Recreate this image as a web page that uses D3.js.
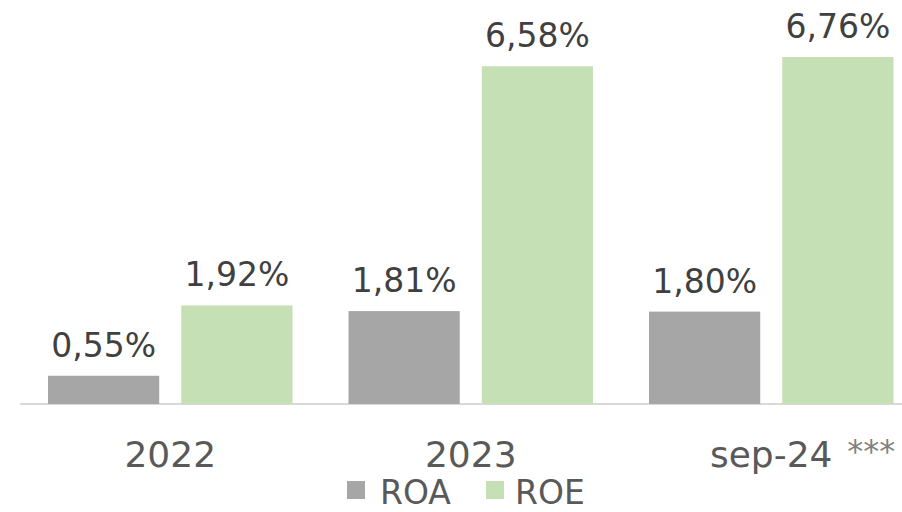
<!DOCTYPE html>
<html><head><meta charset="utf-8">
<script src="https://cdn.jsdelivr.net/npm/d3@7"></script>
<style>body{margin:0;background:#fff}svg{display:block;font-family:"DejaVu Sans",Verdana,sans-serif}</style>
</head><body>
<svg id="c" width="902" height="512"></svg>
<script>
const categories = ["2022", "2023", "sep-24"];
const series = ["ROA", "ROE"];
const roa = [0.55, 1.81, 1.80];
const roe = [1.92, 6.58, 6.76];
const colors = ["#A6A6A6", "#C5E0B4"];
const fmt = v => v.toFixed(2).replace(".", ",") + "%";

const svg = d3.select("#c");
const base = 404;
const x = d3.scaleBand().domain(categories).range([20, 921.5]).padding(0);
const inner = d3.scaleBand().domain(series).range([28, 272.5]).paddingInner(0.1654).paddingOuter(0);
const y = d3.scaleLinear().domain([0, 7]).range([base, base - 7 * 51.33]);

const rows = categories.map((c, i) => ({cat: c, vals: [roa[i], roe[i]]}));

// axis line
svg.append("line").attr("x1", 20).attr("x2", 902).attr("y1", base).attr("y2", base)
  .attr("stroke", "#D9D9D9").attr("stroke-width", 2);

const g = svg.selectAll("g.grp").data(rows).join("g").attr("class", "grp")
  .attr("transform", d => `translate(${x(d.cat)},0)`);

g.selectAll("rect").data(d => d.vals.map((v, j) => ({s: series[j], v, j})))
  .join("rect")
  .attr("x", d => inner(d.s)).attr("width", inner.bandwidth())
  .attr("y", d => y(d.v)).attr("height", d => base - y(d.v))
  .attr("fill", d => colors[d.j]);

g.selectAll("text.lbl").data(d => d.vals.map((v, j) => ({s: series[j], v, j})))
  .join("text").attr("class", "lbl")
  .attr("x", d => inner(d.s) + inner.bandwidth() / 2)
  .attr("y", d => y(d.v) - 19)
  .attr("text-anchor", "middle").attr("font-size", 33).attr("fill", "#404040")
  .text(d => fmt(d.v));

// category axis
const xAxis = d3.axisBottom(x).tickSize(0).tickPadding(0);
const ax = svg.append("g").attr("transform", `translate(0,${base})`).call(xAxis);
ax.select(".domain").remove();
ax.selectAll("text").attr("font-size", 36).attr("fill", "#595959")
  .attr("font-family", '"DejaVu Sans",Verdana,sans-serif')
  .attr("dy", null).attr("y", 63);

// asterisks after sep-24
svg.append("text").attr("x", x("sep-24") + x.bandwidth() / 2 + 76).attr("y", 462)
  .attr("font-size", 32).attr("fill", "#808080").text("***");

// legend
const legend = [{s: "ROA", sx: 347, tx: 380}, {s: "ROE", sx: 486, tx: 515}];
const lg = svg.selectAll("g.lg").data(legend).join("g").attr("class", "lg");
lg.append("rect").attr("x", d => d.sx).attr("y", 481).attr("width", 18).attr("height", 18)
  .attr("fill", (d, i) => colors[i]);
lg.append("text").attr("x", d => d.tx).attr("y", 504).attr("font-size", 33).attr("fill", "#595959")
  .text(d => d.s);
</script>
</body></html>
